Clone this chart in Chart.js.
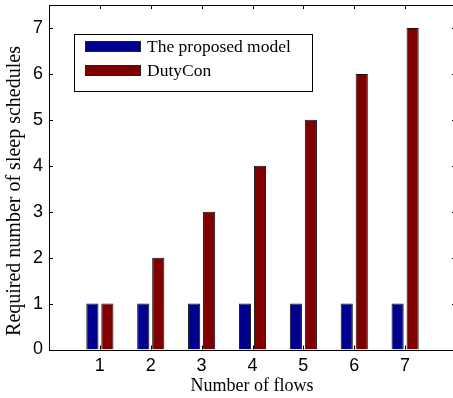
<!DOCTYPE html>
<html>
<head>
<meta charset="utf-8">
<script src="https://cdn.jsdelivr.net/npm/chart.js@4"></script>
<style>
  html, body { margin: 0; padding: 0; background: #fff; overflow: hidden; }
  #wrap { position: relative; width: 460px; height: 398px; }
</style>
</head>
<body>
<div id="wrap"><canvas id="c"></canvas></div>
<script>
const categories = ['1', '2', '3', '4', '5', '6', '7'];
const proposedModel = [1, 1, 1, 1, 1, 1, 1];
const dutyCon = [1, 2, 3, 4, 5, 6, 7];
const yTicks = [0, 1, 2, 3, 4, 5, 6, 7];
const seriesNames = ['The proposed model', 'DutyCon'];
const seriesColors = ['#00008F', '#800000'];
const xTitle = 'Number of flows';
const yTitle = 'Required number of sleep schedules';

// pad the category axis with an empty slot on each side (axis runs 0..8)
const labels = [''].concat(categories, ['']);
const pad = arr => [null].concat(arr, [null]);

const frame = {
  id: 'frame',
  afterDatasetsDraw(chart) {
    const { ctx, chartArea: a, scales } = chart;
    ctx.save();
    ctx.strokeStyle = '#000';
    ctx.lineWidth = 1;
    ctx.beginPath();
    yTicks.forEach(v => {
      const y = Math.round(scales.y.getPixelForValue(v)) + 0.5;
      ctx.moveTo(a.left, y); ctx.lineTo(a.left + 4, y);
      ctx.moveTo(a.right, y); ctx.lineTo(a.right - 4, y);
    });
    categories.forEach((c, i) => {
      const x = Math.round(scales.x.getPixelForValue(i + 1)) + 0.5;
      ctx.moveTo(x, a.bottom); ctx.lineTo(x, a.bottom - 4);
      ctx.moveTo(x, a.top); ctx.lineTo(x, a.top + 4);
    });
    ctx.stroke();
    ctx.strokeRect(Math.round(a.left) + 0.5, Math.round(a.top) + 0.5,
                   Math.round(a.right - a.left), Math.round(a.bottom - a.top));
    ctx.restore();
  },
  afterDraw(chart) {
    const { ctx } = chart;
    ctx.save();
    const bx = 74.5, by = 34.5, bw = 238, bh = 57;
    ctx.fillStyle = '#fff';
    ctx.fillRect(bx, by, bw, bh);
    ctx.strokeStyle = '#000';
    ctx.lineWidth = 1;
    ctx.strokeRect(bx, by, bw, bh);
    ctx.font = '17.5px "Liberation Serif", "Times New Roman", serif';
    ctx.textBaseline = 'middle';
    chart.data.datasets.forEach((ds, i) => {
      const cy = 46 + i * 24;
      ctx.fillStyle = ds.backgroundColor;
      ctx.fillRect(85, cy - 5, 55, 10);
      ctx.strokeStyle = '#222';
      ctx.strokeRect(85.5, cy - 4.5, 55, 10);
      ctx.fillStyle = '#000';
      ctx.fillText(ds.label, 147, cy + 1);
    });
    ctx.font = '18px "Liberation Serif", "Times New Roman", serif';
    ctx.textAlign = 'center';
    ctx.fillText(xTitle, 252, 386);
    ctx.save();
    ctx.translate(15, 191);
    ctx.rotate(-Math.PI / 2);
    ctx.font = '20px "Liberation Serif", "Times New Roman", serif';
    ctx.fillText(yTitle, 0, 0);
    ctx.restore();
    ctx.restore();
  }
};

new Chart(document.getElementById('c'), {
  type: 'bar',
  data: {
    labels: labels,
    datasets: [
      { label: seriesNames[0], data: pad(proposedModel), backgroundColor: seriesColors[0],
        borderColor: '#111', borderWidth: 1, categoryPercentage: 0.59, barPercentage: 0.81 },
      { label: seriesNames[1], data: pad(dutyCon), backgroundColor: seriesColors[1],
        borderColor: '#111', borderWidth: 1, categoryPercentage: 0.59, barPercentage: 0.81 }
    ]
  },
  options: {
    responsive: true,
    maintainAspectRatio: false,
    animation: false,
    layout: { padding: { top: 5, right: 4, left: 0, bottom: 0 } },
    plugins: { legend: { display: false }, tooltip: { enabled: false } },
    scales: {
      x: {
        offset: false,
        grid: { display: false, drawTicks: false },
        border: { display: false },
        ticks: {
          color: '#000', font: { family: '"Liberation Sans", Arial, sans-serif', size: 18 },
          padding: 6, maxRotation: 0, autoSkip: false
        },
        afterFit(s) { s.height = 48.5; s.paddingLeft = 0; s.paddingRight = 0; }
      },
      y: {
        min: 0, max: 7.5,
        grid: { display: false, drawTicks: false },
        border: { display: false },
        afterBuildTicks(s) { s.ticks = yTicks.map(v => ({ value: v })); },
        ticks: {
          color: '#000', font: { family: '"Liberation Sans", Arial, sans-serif', size: 18 },
          padding: 6
        },
        afterFit(s) { s.width = 49; s.paddingTop = 0; s.paddingBottom = 0; }
      }
    }
  },
  plugins: [frame]
});
</script>
</body>
</html>
